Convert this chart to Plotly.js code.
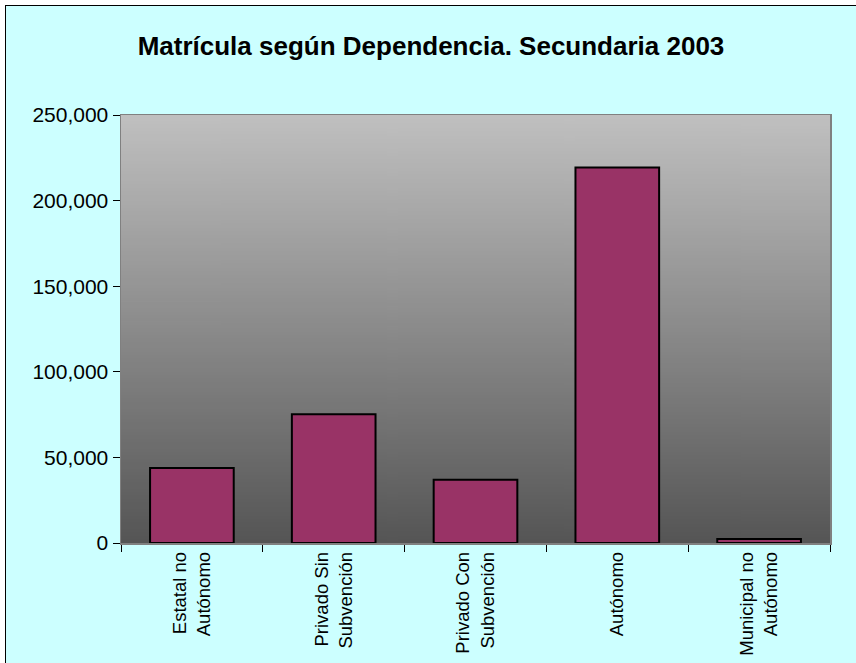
<!DOCTYPE html>
<html>
<head>
<meta charset="utf-8">
<script src="https://cdn.plot.ly/plotly-3.0.1.min.js"></script>
<style>
  html, body { margin: 0; padding: 0; background: #ffffff; }
  #wrap { position: absolute; left: 5px; top: 5px; border-top: 1px solid #000; border-left: 1px solid #000; }
  #chart { width: 850px; height: 657px; }
</style>
</head>
<body>
<div id="wrap"><div id="chart"></div></div>
<script>
// ---- data ----
const categories = ["Estatal no Autónomo", "Privado Sin Subvención", "Privado Con Subvención", "Autónomo", "Municipal no Autónomo"];
const tickLabels = ["Estatal no<br>Autónomo", "Privado Sin<br>Subvención", "Privado Con<br>Subvención", "Autónomo", "Municipal no<br>Autónomo"];
const matricula = [43800, 75200, 37000, 219300, 2400];
const yTickValues = [0, 50000, 100000, 150000, 200000, 250000];
const chartTitle = "Matrícula según Dependencia. Secundaria 2003";

// ---- gradient background for plot area ----
const cv = document.createElement("canvas");
cv.width = 4; cv.height = 256;
const ctx = cv.getContext("2d");
const g = ctx.createLinearGradient(0, 0, 0, 256);
g.addColorStop(0, "#c0c0c0");
g.addColorStop(1, "#555555");
ctx.fillStyle = g;
ctx.fillRect(0, 0, 4, 256);
const gradURL = cv.toDataURL("image/png");

const trace = {
  type: "bar",
  x: categories,
  y: matricula,
  marker: { color: "#993366", line: { color: "#000000", width: 2 } },
  hoverinfo: "x+y"
};

const layout = {
  width: 850, height: 657,
  paper_bgcolor: "#CCFFFF",
  plot_bgcolor: "rgba(0,0,0,0)",
  margin: { l: 115, r: 26, t: 109, b: 120 },
  title: {
    text: "<b>" + chartTitle + "</b>",
    font: { family: "Liberation Sans, Arial, sans-serif", size: 26, color: "#000" },
    x: 0.5, xref: "container", xanchor: "center",
    y: 1 - 40 / 657, yref: "container", yanchor: "middle"
  },
  bargap: 0.41,
  showlegend: false,
  xaxis: {
    type: "category",
    tickvals: categories,
    ticktext: tickLabels,
    tickangle: -90,
    ticks: "outside",
    tickson: "boundaries",
    ticklen: 7,
    tickcolor: "#000",
    showline: true, linecolor: "#808080", linewidth: 1.5, mirror: true,
    showgrid: false, zeroline: false,
    tickfont: { family: "Liberation Sans, Arial, sans-serif", size: 18.5, color: "#000" }
  },
  yaxis: {
    range: [0, 250000],
    tickvals: yTickValues,
    tickformat: ",",
    ticks: "outside",
    ticklen: 7,
    tickcolor: "#000",
    showline: true, linecolor: "#808080", linewidth: 1.5, mirror: true,
    showgrid: false, zeroline: false,
    tickfont: { family: "Liberation Sans, Arial, sans-serif", size: 21, color: "#000" }
  },
  images: [{
    source: gradURL,
    xref: "paper", yref: "paper",
    x: 0, y: 1, sizex: 1, sizey: 1,
    xanchor: "left", yanchor: "top",
    sizing: "stretch",
    layer: "below"
  }]
};

Plotly.newPlot("chart", [trace], layout, { displayModeBar: false, staticPlot: true });
</script>
</body>
</html>
